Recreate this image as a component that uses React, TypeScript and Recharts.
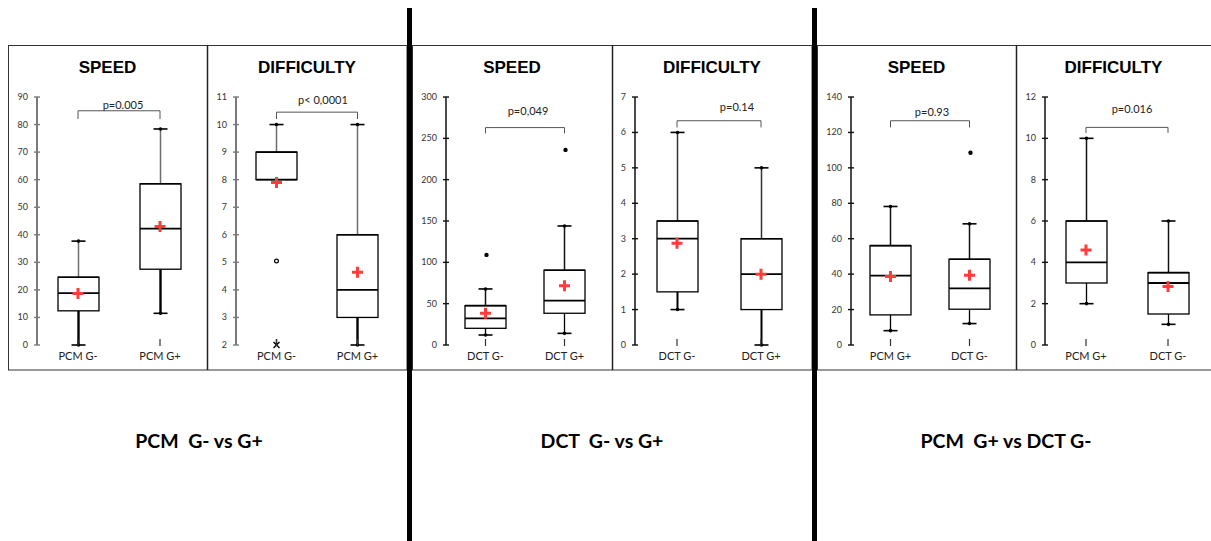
import React from 'react';
import { ComposedChart, Bar, Scatter, XAxis, YAxis, ReferenceLine } from 'recharts';

// ---------------- DATA ----------------
// box stats per category: [min, q1, median, q3, max]
// Panel 1 – SPEED, PCM G- vs G+
const P1_CATS = ['PCM G-', 'PCM G+'];
const P1_BOX = [[0, 12.4, 18.8, 24.6, 37.7], [11.5, 27.5, 42.2, 58.5, 78.4]];
const P1_MEAN = [18.7, 43.0];
const P1_OUT = [[], []];
const P1_FAR = [[], []];
const P1_TICKS = [0, 10, 20, 30, 40, 50, 60, 70, 80, 90];
const P1_BRACKET = [85, 82];
const P1_P = 'p=0.005';

// Panel 2 – DIFFICULTY, PCM G- vs G+
const P2_CATS = ['PCM G-', 'PCM G+'];
const P2_BOX = [[8, 8, 8, 9, 10], [2, 3, 4, 6, 10]];
const P2_MEAN = [7.9, 4.64];
const P2_OUT = [[5.05], []];
const P2_FAR = [[2], []];
const P2_TICKS = [2, 3, 4, 5, 6, 7, 8, 9, 10, 11];
const P2_BRACKET = [10.45, 10.2];
const P2_P = 'p< 0,0001';

// Panel 3 – SPEED, DCT G- vs G+
const P3_CATS = ['DCT G-', 'DCT G+'];
const P3_BOX = [[12.1, 20.2, 32.3, 47.6, 67.8], [14.1, 38.4, 53.7, 90.5, 144]];
const P3_MEAN = [38.4, 71.8];
const P3_OUT = [[109], [236]];
const P3_FAR = [[], []];
const P3_TICKS = [0, 50, 100, 150, 200, 250, 300];
const P3_BRACKET = [263, 256];
const P3_P = 'p=0,049';

// Panel 4 – DIFFICULTY, DCT G- vs G+
const P4_CATS = ['DCT G-', 'DCT G+'];
const P4_BOX = [[1, 1.5, 3, 3.5, 6], [0, 1, 2, 3, 5]];
const P4_MEAN = [2.87, 2.0];
const P4_OUT = [[], []];
const P4_FAR = [[], []];
const P4_TICKS = [0, 1, 2, 3, 4, 5, 6, 7];
const P4_BRACKET = [6.33, 6.14];
const P4_P = 'p=0.14';

// Panel 5 – SPEED, PCM G+ vs DCT G-
const P5_CATS = ['PCM G+', 'DCT G-'];
const P5_BOX = [[8.1, 17, 39.2, 56.1, 78.2], [12.1, 20.2, 32, 48.4, 68.4]];
const P5_MEAN = [38.6, 39.4];
const P5_OUT = [[], [108.5]];
const P5_FAR = [[], []];
const P5_TICKS = [0, 20, 40, 60, 80, 100, 120, 140];
const P5_BRACKET = [126.6, 122.8];
const P5_P = 'p=0.93';

// Panel 6 – DIFFICULTY, PCM G+ vs DCT G-
const P6_CATS = ['PCM G+', 'DCT G-'];
const P6_BOX = [[2, 3, 4, 6, 10], [1, 1.5, 3, 3.5, 6]];
const P6_MEAN = [4.6, 2.83];
const P6_OUT = [[], []];
const P6_FAR = [[], []];
const P6_TICKS = [0, 2, 4, 6, 8, 10, 12];
const P6_BRACKET = [10.53, 10.26];
const P6_P = 'p=0.016';

const TITLES = ['SPEED', 'DIFFICULTY'];
const GROUP_LABELS = ['PCM  G- vs G+', 'DCT  G- vs G+', 'PCM  G+ vs DCT G-'];

// ---------------- LAYOUT / STYLE ----------------
const FONT = 'Lato, "Open Sans", sans-serif';
const TITLE_FONT = '"Liberation Sans", Arial, sans-serif';

const PANELS = [
  { cats: P1_CATS, box: P1_BOX, mean: P1_MEAN, out: P1_OUT, far: P1_FAR, ticks: P1_TICKS, br: P1_BRACKET, p: P1_P,
    left: 8, width: 199, yw: 29, right: 6, axisColor: '#7a7a7a', axisW: 2, upColor: '#6e6e6e', loW: 2.4, outKind: 'dot', pOff: 2, pDx: 4, title: 0 },
  { cats: P2_CATS, box: P2_BOX, mean: P2_MEAN, out: P2_OUT, far: P2_FAR, ticks: P2_TICKS, br: P2_BRACKET, p: P2_P,
    left: 207, width: 200, yw: 29, right: 9, axisColor: '#7a7a7a', axisW: 2, upColor: '#6e6e6e', loW: 2.4, outKind: 'ring', pOff: 8, pDx: 6, title: 1 },
  { cats: P3_CATS, box: P3_BOX, mean: P3_MEAN, out: P3_OUT, far: P3_FAR, ticks: P3_TICKS, br: P3_BRACKET, p: P3_P,
    left: 412, width: 200, yw: 34, right: 8, axisColor: '#111', axisW: 1.5, upColor: '#111', loW: 1.3, outKind: 'dot', pOff: 13, pDx: 3, title: 0 },
  { cats: P4_CATS, box: P4_BOX, mean: P4_MEAN, out: P4_OUT, far: P4_FAR, ticks: P4_TICKS, br: P4_BRACKET, p: P4_P,
    left: 612, width: 200, yw: 23, right: 9, axisColor: '#111', axisW: 1.5, upColor: '#333', loW: 2, outKind: 'dot', pOff: 10, pDx: 18, title: 1 },
  { cats: P5_CATS, box: P5_BOX, mean: P5_MEAN, out: P5_OUT, far: P5_FAR, ticks: P5_TICKS, br: P5_BRACKET, p: P5_P,
    left: 817, width: 199, yw: 34, right: 7, axisColor: '#111', axisW: 1.5, upColor: '#111', loW: 1.3, outKind: 'dot', pOff: 5, pDx: 2, title: 0 },
  { cats: P6_CATS, box: P6_BOX, mean: P6_MEAN, out: P6_OUT, far: P6_FAR, ticks: P6_TICKS, br: P6_BRACKET, p: P6_P,
    left: 1016, width: 195, yw: 29, right: 2, axisColor: '#111', axisW: 1.5, upColor: '#111', loW: 1.3, outKind: 'dot', pOff: 14, pDx: 5, title: 1 },
];

const TOP = 45;
const H = 325;

function buildRows(pn: any) {
  return pn.cats.map((c: string, i: number) => {
    const [lo, q1, med, q3, hi] = pn.box[i];
    return {
      cat: c, range: [lo, hi], lo, q1, med, q3, hi,
      mean: pn.mean[i],
      out: pn.out[i].length ? pn.out[i][0] : null,
      far: pn.far[i].length ? pn.far[i][0] : null,
    };
  });
}

const makeBoxShape = (pn: any) => (props: any) => {
  const { x, y, width, height, payload } = props;
  if (!payload || !Number.isFinite(y) || !Number.isFinite(height)) return <g />;
  const top = Math.min(y, y + height);
  const h = Math.abs(height);
  const { lo, q1, med, q3, hi } = payload;
  const py = (v: number) => (hi === lo ? top : top + ((hi - v) / (hi - lo)) * h);
  const cx = x + width / 2;
  const cap = 7;
  return (
    <g>
      {hi > q3 && <line x1={cx} x2={cx} y1={py(hi)} y2={py(q3)} stroke={pn.upColor} strokeWidth={1.5} />}
      {lo < q1 && <line x1={cx} x2={cx} y1={py(q1)} y2={py(lo)} stroke="#000" strokeWidth={pn.loW} />}
      {hi > q3 && <line x1={cx - cap} x2={cx + cap} y1={py(hi)} y2={py(hi)} stroke="#000" strokeWidth={1.6} />}
      {hi > q3 && <circle cx={cx} cy={py(hi)} r={1.8} fill="#000" />}
      {lo < q1 && <line x1={cx - cap} x2={cx + cap} y1={py(lo)} y2={py(lo)} stroke="#000" strokeWidth={1.6} />}
      {lo < q1 && <circle cx={cx} cy={py(lo)} r={1.8} fill="#000" />}
      <rect x={x} y={py(q3)} width={width} height={py(q1) - py(q3)} fill="#fff" stroke="#000" strokeWidth={1.3} />
      <line x1={x} x2={x + width} y1={py(q3)} y2={py(q3)} stroke="#000" strokeWidth={1.6} />
      <line x1={x} x2={x + width} y1={py(med)} y2={py(med)} stroke="#000" strokeWidth={1.8} />
    </g>
  );
};

const MeanShape = (p: any) => {
  if (!Number.isFinite(p.cx) || !Number.isFinite(p.cy) || p.payload?.mean == null) return <g />;
  const { cx, cy } = p;
  return <path d={`M${cx - 5.5},${cy}H${cx + 5.5}M${cx},${cy - 5.5}V${cy + 5.5}`} stroke="#ff3b3b" strokeWidth={3} />;
};

const makeOutShape = (kind: string) => (p: any) => {
  if (!Number.isFinite(p.cx) || !Number.isFinite(p.cy) || p.payload?.out == null) return <g />;
  if (kind === 'ring') return <circle cx={p.cx} cy={p.cy} r={1.9} fill="#fff" stroke="#000" strokeWidth={1.2} />;
  return <circle cx={p.cx + 1} cy={p.cy} r={2.2} fill="#000" />;
};

const FarShape = (p: any) => {
  if (!Number.isFinite(p.cx) || !Number.isFinite(p.cy) || p.payload?.far == null) return <g />;
  const { cx, cy } = p;
  return (
    <g stroke="#000" strokeWidth={1.4}>
      <path d={`M${cx - 3},${cy - 3}L${cx + 3},${cy + 3}M${cx - 3},${cy + 3}L${cx + 3},${cy - 3}M${cx},${cy - 6}V${cy}`} />
    </g>
  );
};

const makeYTick = (pn: any) => (props: any) => {
  const { x, y, payload } = props;
  return (
    <g>
      <line x1={x - 3} x2={x + 3} y1={y} y2={y} stroke={pn.axisColor} strokeWidth={1.4} />
      <text x={x - 9} y={y} dy={3} textAnchor="end" fontSize={9} fill="#333" fontFamily={FONT}>{payload.value}</text>
    </g>
  );
};

const XTick = (props: any) => {
  const { x, y, payload } = props;
  return (
    <g>
      <line x1={x} x2={x} y1={y - 6} y2={y + 1} stroke="#333" strokeWidth={1.2} />
      <text x={x} y={y + 15} textAnchor="middle" fontSize={11} fill="#222" fontFamily={FONT}>{payload.value}</text>
    </g>
  );
};

function Panel({ pn }: { pn: any }) {
  const rows = buildRows(pn);
  const [c0, c1] = pn.cats;
  const [bTop, bEnd] = pn.br;
  const dom = [pn.ticks[0], pn.ticks[pn.ticks.length - 1]];
  return (
    <div style={{ position: 'absolute', left: pn.left, top: TOP }}>
      <ComposedChart width={pn.width} height={H} data={rows} margin={{ top: 52, right: pn.right, bottom: 0, left: 0 }}>
        <XAxis dataKey="cat" type="category" axisLine={false} tickLine={false} tickSize={0} tickMargin={0} height={25} interval={0} tick={XTick} />
        <YAxis type="number" domain={dom} ticks={pn.ticks} interval={0} width={pn.yw} tickSize={0} tickMargin={0}
          tickLine={false} axisLine={{ stroke: pn.axisColor, strokeWidth: pn.axisW }} tick={makeYTick(pn)} />
        <ReferenceLine segment={[{ x: c0, y: bTop }, { x: c1, y: bTop }]} stroke="#555" strokeWidth={1}
          label={(lp: any) => {
            const vb = lp.viewBox || {};
            return (
              <text x={(vb.x || 0) + (vb.width || 0) / 2 + pn.pDx} y={(vb.y || 0) - pn.pOff} textAnchor="middle" fontSize={11} fill="#222" fontFamily={FONT}>
                {pn.p}
              </text>
            );
          }} />
        <ReferenceLine segment={[{ x: c0, y: bTop }, { x: c0, y: bEnd }]} stroke="#555" strokeWidth={1} />
        <ReferenceLine segment={[{ x: c1, y: bTop }, { x: c1, y: bEnd }]} stroke="#555" strokeWidth={1} />
        <Bar dataKey="range" barSize={41} isAnimationActive={false} shape={makeBoxShape(pn)} />
        <Scatter dataKey="out" isAnimationActive={false} shape={makeOutShape(pn.outKind)} />
        <Scatter dataKey="far" isAnimationActive={false} shape={FarShape} />
        <Scatter dataKey="mean" isAnimationActive={false} shape={MeanShape} />
      </ComposedChart>
    </div>
  );
}

export default function App() {
  return (
    <div style={{ position: 'absolute', left: 0, top: 0, width: 1211, height: 541, background: '#fff', overflow: 'hidden' }}>
      <svg width={1211} height={541} style={{ position: 'absolute', left: 0, top: 0 }}>
        {/* frames */}
        <rect x={8.5} y={45.5} width={398.5} height={324.5} fill="none" stroke="#333" strokeWidth={1} />
        <rect x={412.5} y={45.5} width={399.5} height={324.5} fill="none" stroke="#333" strokeWidth={1} />
        <rect x={817.5} y={45.5} width={400} height={324.5} fill="none" stroke="#333" strokeWidth={1} />
        <line x1={207.5} x2={207.5} y1={45} y2={370} stroke="#222" strokeWidth={1.5} />
        <line x1={612.5} x2={612.5} y1={45} y2={370} stroke="#222" strokeWidth={1.5} />
        <line x1={1016.5} x2={1016.5} y1={45} y2={370} stroke="#222" strokeWidth={1.5} />
        {/* thick separators */}
        <rect x={407} y={8} width={5} height={533} fill="#000" />
        <rect x={812} y={8} width={5} height={533} fill="#000" />
        {/* panel titles */}
        {PANELS.map((pn, i) => (
          <text key={i} x={pn.left + pn.width / 2} y={72.5} textAnchor="middle" fontSize={17} fontWeight="bold" fontFamily={TITLE_FONT} fill="#000">
            {TITLES[pn.title]}
          </text>
        ))}
        {/* group labels */}
        {GROUP_LABELS.map((g, i) => (
          <text key={g} x={[199, 602, 1006][i]} y={447.5} textAnchor="middle" fontSize={19.5} fontWeight="bold" fontFamily={FONT} fill="#000" xmlSpace="preserve" style={{ whiteSpace: 'pre' }}>
            {g}
          </text>
        ))}
      </svg>
      {PANELS.map((pn, i) => <Panel key={i} pn={pn} />)}
    </div>
  );
}
